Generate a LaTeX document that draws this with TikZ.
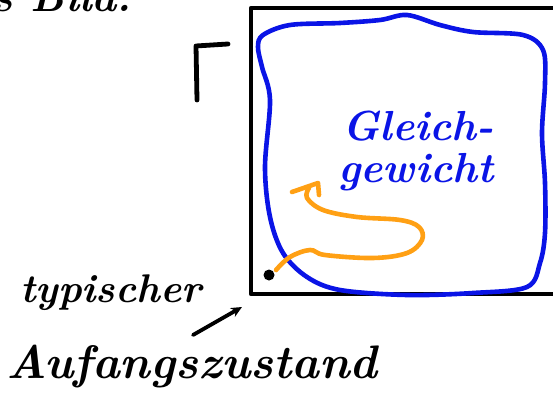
\documentclass[tikz,border=0pt]{standalone}
\usepackage{tikz}
\usetikzlibrary{arrows.meta}
\definecolor{penblue}{RGB}{10,20,230}
\definecolor{penorange}{RGB}{255,160,20}
\tikzset{
  ink/.style={line width=4.6pt, line cap=round, line join=round},
  hand/.style={inner sep=0pt},
}
\newcommand{\handfont}[1]{\fontsize{#1}{#1}\selectfont\bfseries\itshape}
\begin{document}
\begin{tikzpicture}[x=1pt,y=-1pt]
\useasboundingbox (0,0) rectangle (553,398);
\clip (0,0) rectangle (553,398);
% top cut-off text
\node[hand, anchor=base west, font=\handfont{42}] (bild) at (-8,12) {s Bild:};
% Gamma
\draw[ink, line width=4.8pt] (197,100) -- (196,46) -- (228,44);
% box
\draw[ink, line width=4.6pt, line cap=butt] (600,8) -- (251,8) -- (251,294) -- (600,294);
% blue loop
\draw[ink, penblue] plot[smooth cycle, tension=0.55] coordinates {
 (263,35) (290,25) (340,23) (380,20) (407,15) (440,25) (473,32) (523,35) (543,50)
 (545,83) (542,133) (545,183) (545,233) (540,263) (527,287) (473,293) (407,295)
 (340,290) (307,277) (283,253) (270,217) (265,167) (270,100) (262,67) (258,47)};
% start dot
\fill (269,275) circle (5.5pt);
\coordinate (start) at (269,275);
% orange path
\draw[ink, penorange] plot[smooth, tension=0.6] coordinates {
 (276,270) (290,257) (310,250) (325,255) (373,258) (407,253) (422,240) (419,227)
 (400,220) (357,217) (323,210) (307,198) (309,188)};
\draw[ink, penorange] (292,192) -- (318,183) -- (319,195);
% Gleichgewicht text
\node[hand, text=penblue, font=\handfont{42}, anchor=base west] (gleich) at (342,140) {Gleich-};
\node[hand, text=penblue, font=\handfont{42}, anchor=base west] (gewicht) at (338,182) {gewicht};
% labels
\node[hand, font=\handfont{40}, anchor=base west] (typ) at (20,302) {typischer};
\node[hand, font=\handfont{47}, anchor=base west] (auf) at (6,378) {Aufangszustand};
\coordinate (arrs) at (193,335);
\coordinate (arrt) at (242,307);
\draw[ink, line width=3.8pt, -{Stealth[length=11pt,width=10pt]}] (arrs) -- (arrt);
\end{tikzpicture}
\end{document}
